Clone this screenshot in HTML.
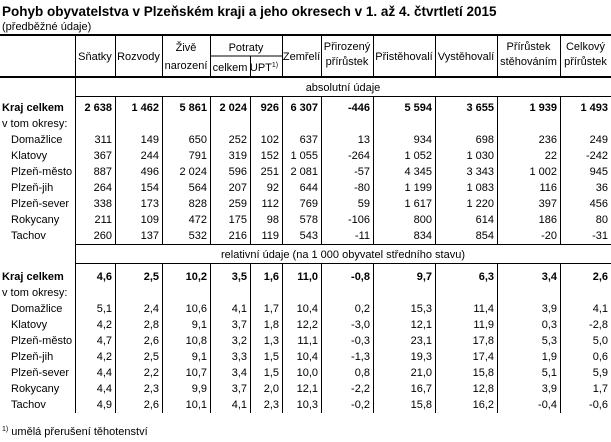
<!DOCTYPE html>
<html><head><meta charset="utf-8"><style>
html,body{margin:0;padding:0;background:#fff}
svg{display:block}
text{font-family:"Liberation Sans",Arial,sans-serif;font-size:11px;fill:#000}
.b{font-weight:bold}
.r{text-anchor:end}
.c{text-anchor:middle}
</style></head><body>
<svg width="611" height="442" viewBox="0 0 611 442">
<text x="2" y="16" class="b" style="font-size:13.5px">Pohyb obyvatelstva v Plzeňském kraji a jeho okresech v 1. až 4. čtvrtletí 2015</text>
<text x="2" y="30">(předběžné údaje)</text>
<g stroke="#000" fill="none">
<line x1="0" y1="35" x2="611" y2="35" stroke-width="2"/>
<line x1="0" y1="77" x2="611" y2="77" stroke-width="2"/>
<line x1="210" y1="56" x2="282" y2="56"/>
<line x1="75" y1="96.5" x2="611" y2="96.5"/>
<line x1="75" y1="244.5" x2="611" y2="244.5"/>
<line x1="75" y1="263.5" x2="611" y2="263.5"/>
<line x1="75.5" y1="35" x2="75.5" y2="413"/>
<g>
<line x1="115.5" y1="35" x2="115.5" y2="77"/><line x1="162.5" y1="35" x2="162.5" y2="77"/><line x1="210.5" y1="35" x2="210.5" y2="77"/><line x1="250.5" y1="56" x2="250.5" y2="77"/><line x1="282.5" y1="35" x2="282.5" y2="77"/><line x1="321.5" y1="35" x2="321.5" y2="77"/><line x1="373.5" y1="35" x2="373.5" y2="77"/><line x1="435.5" y1="35" x2="435.5" y2="77"/><line x1="497.5" y1="35" x2="497.5" y2="77"/><line x1="560.5" y1="35" x2="560.5" y2="77"/>
<line x1="115.5" y1="96" x2="115.5" y2="244"/><line x1="162.5" y1="96" x2="162.5" y2="244"/><line x1="210.5" y1="96" x2="210.5" y2="244"/><line x1="250.5" y1="96" x2="250.5" y2="244"/><line x1="282.5" y1="96" x2="282.5" y2="244"/><line x1="321.5" y1="96" x2="321.5" y2="244"/><line x1="373.5" y1="96" x2="373.5" y2="244"/><line x1="435.5" y1="96" x2="435.5" y2="244"/><line x1="497.5" y1="96" x2="497.5" y2="244"/><line x1="560.5" y1="96" x2="560.5" y2="244"/>
<line x1="115.5" y1="263" x2="115.5" y2="413"/><line x1="162.5" y1="263" x2="162.5" y2="413"/><line x1="210.5" y1="263" x2="210.5" y2="413"/><line x1="250.5" y1="263" x2="250.5" y2="413"/><line x1="282.5" y1="263" x2="282.5" y2="413"/><line x1="321.5" y1="263" x2="321.5" y2="413"/><line x1="373.5" y1="263" x2="373.5" y2="413"/><line x1="435.5" y1="263" x2="435.5" y2="413"/><line x1="497.5" y1="263" x2="497.5" y2="413"/><line x1="560.5" y1="263" x2="560.5" y2="413"/>
</g></g>
<g class="c">
<text x="95" y="60">Sňatky</text><text x="138.5" y="60">Rozvody</text>
<text x="186" y="51">Živě</text><text x="186" y="69">narození</text>
<text x="246" y="51">Potraty</text><text x="230" y="71">celkem</text>
<text x="264" y="71">UPT<tspan dy="-4" style="font-size:7px">1)</tspan></text>
<text x="301.5" y="60">Zemřelí</text>
<text x="347" y="50">Přirozený</text><text x="347" y="65">přírůstek</text>
<text x="404" y="60">Přistěhovalí</text><text x="466" y="60">Vystěhovalí</text>
<text x="528.5" y="50">Přírůstek</text><text x="528.5" y="65">stěhováním</text>
<text x="585.5" y="50">Celkový</text><text x="585.5" y="65">přírůstek</text>
<text x="343" y="91">absolutní údaje</text>
<text x="343" y="258">relativní údaje (na 1 000 obyvatel středního stavu)</text>
</g>
<g>
<text x="2" y="111" class="b">Kraj celkem</text><text x="2" y="127">v tom okresy:</text>
<text x="11" y="143">Domažlice</text><text x="11" y="159">Klatovy</text><text x="11" y="175">Plzeň-město</text><text x="11" y="191">Plzeň-jih</text><text x="11" y="207">Plzeň-sever</text><text x="11" y="223">Rokycany</text><text x="11" y="239">Tachov</text>
<text x="2" y="280" class="b">Kraj celkem</text><text x="2" y="296">v tom okresy:</text>
<text x="11" y="312">Domažlice</text><text x="11" y="328">Klatovy</text><text x="11" y="344">Plzeň-město</text><text x="11" y="360">Plzeň-jih</text><text x="11" y="376">Plzeň-sever</text><text x="11" y="392">Rokycany</text><text x="11" y="408">Tachov</text>
</g>
<g class="r">
<text y="111" class="b"><tspan x="112">2 638</tspan><tspan x="159">1 462</tspan><tspan x="207">5 861</tspan><tspan x="247">2 024</tspan><tspan x="279">926</tspan><tspan x="318">6 307</tspan><tspan x="370">-446</tspan><tspan x="432">5 594</tspan><tspan x="494">3 655</tspan><tspan x="557">1 939</tspan><tspan x="608">1 493</tspan></text>
<text y="143"><tspan x="112">311</tspan><tspan x="159">149</tspan><tspan x="207">650</tspan><tspan x="247">252</tspan><tspan x="279">102</tspan><tspan x="318">637</tspan><tspan x="370">13</tspan><tspan x="432">934</tspan><tspan x="494">698</tspan><tspan x="557">236</tspan><tspan x="608">249</tspan></text>
<text y="159"><tspan x="112">367</tspan><tspan x="159">244</tspan><tspan x="207">791</tspan><tspan x="247">319</tspan><tspan x="279">152</tspan><tspan x="318">1 055</tspan><tspan x="370">-264</tspan><tspan x="432">1 052</tspan><tspan x="494">1 030</tspan><tspan x="557">22</tspan><tspan x="608">-242</tspan></text>
<text y="175"><tspan x="112">887</tspan><tspan x="159">496</tspan><tspan x="207">2 024</tspan><tspan x="247">596</tspan><tspan x="279">251</tspan><tspan x="318">2 081</tspan><tspan x="370">-57</tspan><tspan x="432">4 345</tspan><tspan x="494">3 343</tspan><tspan x="557">1 002</tspan><tspan x="608">945</tspan></text>
<text y="191"><tspan x="112">264</tspan><tspan x="159">154</tspan><tspan x="207">564</tspan><tspan x="247">207</tspan><tspan x="279">92</tspan><tspan x="318">644</tspan><tspan x="370">-80</tspan><tspan x="432">1 199</tspan><tspan x="494">1 083</tspan><tspan x="557">116</tspan><tspan x="608">36</tspan></text>
<text y="207"><tspan x="112">338</tspan><tspan x="159">173</tspan><tspan x="207">828</tspan><tspan x="247">259</tspan><tspan x="279">112</tspan><tspan x="318">769</tspan><tspan x="370">59</tspan><tspan x="432">1 617</tspan><tspan x="494">1 220</tspan><tspan x="557">397</tspan><tspan x="608">456</tspan></text>
<text y="223"><tspan x="112">211</tspan><tspan x="159">109</tspan><tspan x="207">472</tspan><tspan x="247">175</tspan><tspan x="279">98</tspan><tspan x="318">578</tspan><tspan x="370">-106</tspan><tspan x="432">800</tspan><tspan x="494">614</tspan><tspan x="557">186</tspan><tspan x="608">80</tspan></text>
<text y="239"><tspan x="112">260</tspan><tspan x="159">137</tspan><tspan x="207">532</tspan><tspan x="247">216</tspan><tspan x="279">119</tspan><tspan x="318">543</tspan><tspan x="370">-11</tspan><tspan x="432">834</tspan><tspan x="494">854</tspan><tspan x="557">-20</tspan><tspan x="608">-31</tspan></text>
<text y="280" class="b"><tspan x="112">4,6</tspan><tspan x="159">2,5</tspan><tspan x="207">10,2</tspan><tspan x="247">3,5</tspan><tspan x="279">1,6</tspan><tspan x="318">11,0</tspan><tspan x="370">-0,8</tspan><tspan x="432">9,7</tspan><tspan x="494">6,3</tspan><tspan x="557">3,4</tspan><tspan x="608">2,6</tspan></text>
<text y="312"><tspan x="112">5,1</tspan><tspan x="159">2,4</tspan><tspan x="207">10,6</tspan><tspan x="247">4,1</tspan><tspan x="279">1,7</tspan><tspan x="318">10,4</tspan><tspan x="370">0,2</tspan><tspan x="432">15,3</tspan><tspan x="494">11,4</tspan><tspan x="557">3,9</tspan><tspan x="608">4,1</tspan></text>
<text y="328"><tspan x="112">4,2</tspan><tspan x="159">2,8</tspan><tspan x="207">9,1</tspan><tspan x="247">3,7</tspan><tspan x="279">1,8</tspan><tspan x="318">12,2</tspan><tspan x="370">-3,0</tspan><tspan x="432">12,1</tspan><tspan x="494">11,9</tspan><tspan x="557">0,3</tspan><tspan x="608">-2,8</tspan></text>
<text y="344"><tspan x="112">4,7</tspan><tspan x="159">2,6</tspan><tspan x="207">10,8</tspan><tspan x="247">3,2</tspan><tspan x="279">1,3</tspan><tspan x="318">11,1</tspan><tspan x="370">-0,3</tspan><tspan x="432">23,1</tspan><tspan x="494">17,8</tspan><tspan x="557">5,3</tspan><tspan x="608">5,0</tspan></text>
<text y="360"><tspan x="112">4,2</tspan><tspan x="159">2,5</tspan><tspan x="207">9,1</tspan><tspan x="247">3,3</tspan><tspan x="279">1,5</tspan><tspan x="318">10,4</tspan><tspan x="370">-1,3</tspan><tspan x="432">19,3</tspan><tspan x="494">17,4</tspan><tspan x="557">1,9</tspan><tspan x="608">0,6</tspan></text>
<text y="376"><tspan x="112">4,4</tspan><tspan x="159">2,2</tspan><tspan x="207">10,7</tspan><tspan x="247">3,4</tspan><tspan x="279">1,5</tspan><tspan x="318">10,0</tspan><tspan x="370">0,8</tspan><tspan x="432">21,0</tspan><tspan x="494">15,8</tspan><tspan x="557">5,1</tspan><tspan x="608">5,9</tspan></text>
<text y="392"><tspan x="112">4,4</tspan><tspan x="159">2,3</tspan><tspan x="207">9,9</tspan><tspan x="247">3,7</tspan><tspan x="279">2,0</tspan><tspan x="318">12,1</tspan><tspan x="370">-2,2</tspan><tspan x="432">16,7</tspan><tspan x="494">12,8</tspan><tspan x="557">3,9</tspan><tspan x="608">1,7</tspan></text>
<text y="408"><tspan x="112">4,9</tspan><tspan x="159">2,6</tspan><tspan x="207">10,1</tspan><tspan x="247">4,1</tspan><tspan x="279">2,3</tspan><tspan x="318">10,3</tspan><tspan x="370">-0,2</tspan><tspan x="432">15,8</tspan><tspan x="494">16,2</tspan><tspan x="557">-0,4</tspan><tspan x="608">-0,6</tspan></text>
</g>
<text x="2" y="435"><tspan dy="-4" style="font-size:7px">1)</tspan><tspan dy="4"> umělá přerušení těhotenství</tspan></text>
</svg>
</body></html>
